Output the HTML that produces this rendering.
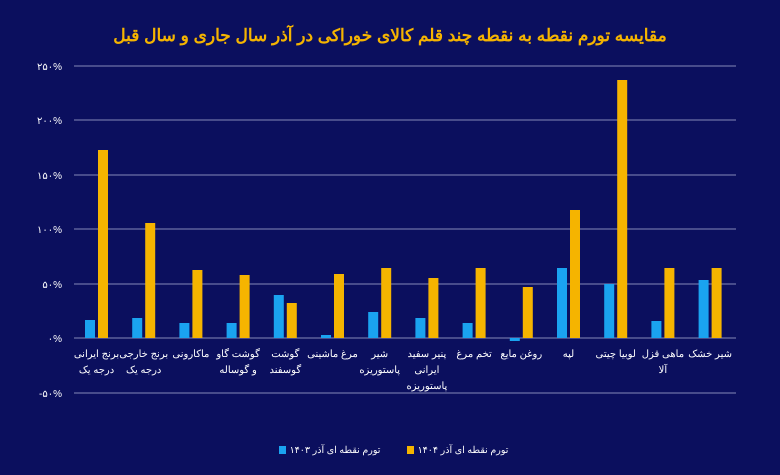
<!DOCTYPE html>
<html><head><meta charset="utf-8"><style>
body{margin:0;width:780px;height:470px;background:#0b0f5e;overflow:hidden}
</style></head><body>
<svg width="780" height="470" xmlns="http://www.w3.org/2000/svg" style="font-family:'Liberation Sans','Noto Sans CJK SC',sans-serif">
<rect width="780" height="470" fill="#0b0f5e"/>
<text x="390" y="41" text-anchor="middle" fill="#f5b400" font-size="17" font-weight="bold">مقایسه تورم نقطه به نقطه چند قلم کالای خوراکی در آذر سال جاری و سال قبل</text>
<g stroke="#6c70a6" stroke-width="1.2">
<line x1="74" x2="736" y1="66" y2="66"/><line x1="74" x2="736" y1="120" y2="120"/>
<line x1="74" x2="736" y1="175" y2="175"/><line x1="74" x2="736" y1="229" y2="229"/>
<line x1="74" x2="736" y1="284" y2="284"/><line x1="74" x2="736" y1="338" y2="338"/>
<line x1="74" x2="736" y1="393" y2="393"/>
</g>
<g fill="#fff" font-size="10" text-anchor="end">
<text x="62" y="70">۲۵۰%</text><text x="62" y="124">۲۰۰%</text><text x="62" y="179">۱۵۰%</text>
<text x="62" y="233">۱۰۰%</text><text x="62" y="288">۵۰%</text><text x="62" y="342">۰%</text><text x="62" y="397">-۵۰%</text>
</g>
<g fill="#1aa3f0">
<rect x="85" y="320" width="10" height="18"/>
<rect x="132.2" y="318" width="10" height="20"/>
<rect x="179.4" y="323" width="10" height="15"/>
<rect x="226.6" y="323" width="10" height="15"/>
<rect x="273.8" y="295" width="10" height="43"/>
<rect x="321" y="335" width="10" height="3"/>
<rect x="368.2" y="312" width="10" height="26"/>
<rect x="415.4" y="318" width="10" height="20"/>
<rect x="462.6" y="323" width="10" height="15"/>
<rect x="509.8" y="338" width="10" height="3"/>
<rect x="557" y="268" width="10" height="70"/>
<rect x="604.2" y="284" width="10" height="54"/>
<rect x="651.4" y="321" width="10" height="17"/>
<rect x="698.6" y="280" width="10" height="58"/>
</g>
<g fill="#f5b400">
<rect x="98" y="150" width="10" height="188"/>
<rect x="145.2" y="223" width="10" height="115"/>
<rect x="192.4" y="270" width="10" height="68"/>
<rect x="239.6" y="275" width="10" height="63"/>
<rect x="286.8" y="303" width="10" height="35"/>
<rect x="334" y="274" width="10" height="64"/>
<rect x="381.2" y="268" width="10" height="70"/>
<rect x="428.4" y="278" width="10" height="60"/>
<rect x="475.6" y="268" width="10" height="70"/>
<rect x="522.8" y="287" width="10" height="51"/>
<rect x="570" y="210" width="10" height="128"/>
<rect x="617.2" y="80" width="10" height="258"/>
<rect x="664.4" y="268" width="10" height="70"/>
<rect x="711.6" y="268" width="10" height="70"/>
</g>
<g fill="#fff" font-size="10" text-anchor="middle">
<text x="96.5" y="357">برنج ایرانی</text><text x="96.5" y="373">درجه یک</text>
<text x="143.7" y="357">برنج خارجی</text><text x="143.7" y="373">درجه یک</text>
<text x="190.9" y="357">ماکارونی</text>
<text x="238.1" y="357">گوشت گاو</text><text x="238.1" y="373">و گوساله</text>
<text x="285.3" y="357">گوشت</text><text x="285.3" y="373">گوسفند</text>
<text x="332.5" y="357">مرغ ماشینی</text>
<text x="379.7" y="357">شیر</text><text x="379.7" y="373">پاستوریزه</text>
<text x="426.9" y="357">پنیر سفید</text><text x="426.9" y="373">ایرانی</text><text x="426.9" y="389">پاستوریزه</text>
<text x="474.1" y="357">تخم مرغ</text>
<text x="521.3" y="357">روغن مایع</text>
<text x="568.5" y="357">لپه</text>
<text x="615.7" y="357">لوبیا چیتی</text>
<text x="662.9" y="357">ماهی قزل</text><text x="662.9" y="373">آلا</text>
<text x="710.1" y="357">شیر خشک</text>
</g>
<rect x="279" y="446" width="7" height="8" fill="#1aa3f0"/>
<text x="335" y="453" fill="#fff" font-size="9.5" text-anchor="middle">تورم نقطه ای آذر ۱۴۰۳</text>
<rect x="407" y="446" width="7" height="8" fill="#f5b400"/>
<text x="463" y="453" fill="#fff" font-size="9.5" text-anchor="middle">تورم نقطه ای آذر ۱۴۰۴</text>
</svg>
</body></html>
